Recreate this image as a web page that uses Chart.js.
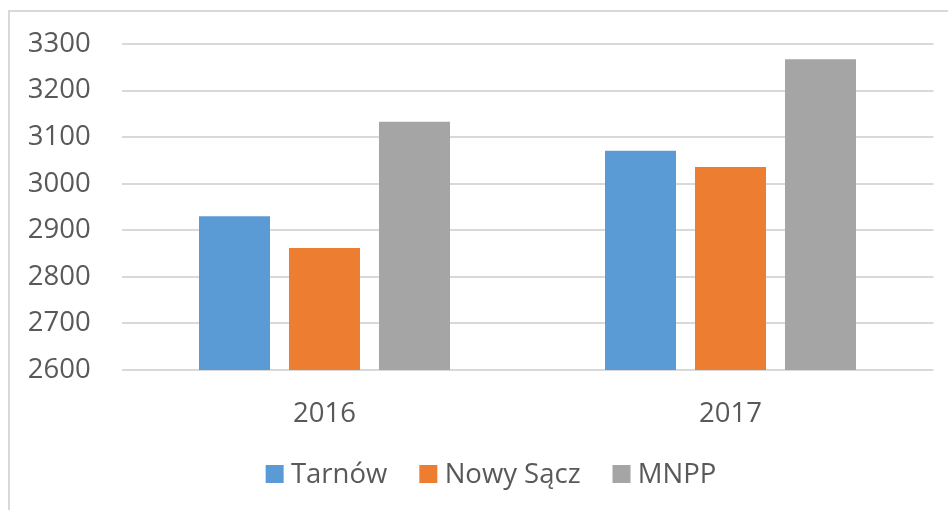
<!DOCTYPE html>
<html>
<head>
<meta charset="utf-8">
<script src="https://cdn.jsdelivr.net/npm/chart.js@4.4.1/dist/chart.umd.min.js"></script>
<style>
  html, body { margin: 0; padding: 0; background: #ffffff; overflow: hidden; }
  #wrap { position: relative; width: 948px; height: 510px; overflow: hidden; }
  #frame { position: absolute; left: 8px; top: 10px; width: 1100px; height: 700px; border: 2px solid #d9d9d9; box-sizing: border-box; }
  #c { position: absolute; left: 0; top: 0; }
</style>
</head>
<body>
<div id="wrap">
  <div id="frame"></div>
  <canvas id="c" width="948" height="510"></canvas>
</div>
<script>
const categories = ["2016", "2017"];
const seriesNames = ["Tarnów", "Nowy Sącz", "MNPP"];
const tarnow = [2930, 3071];
const nowySacz = [2862, 3036];
const mnpp = [3133, 3267];
const yMin = 2600, yMax = 3300, yStep = 100;

const colors = ["#5B9BD5", "#ED7D31", "#A5A5A5"];
const FONT = "'Open Sans', 'DejaVu Sans', sans-serif";
const FS = 27.5;
const TXT = "#595959";

const customLegend = {
  id: 'customLegend',
  afterDraw(chart) {
    const ctx = chart.ctx;
    ctx.save();
    ctx.font = FS + "px " + FONT;
    const box = 18, gapText = 7.3, gapItem = 32;
    const items = chart.data.datasets.map(d => ({ text: d.label, color: d.backgroundColor, w: ctx.measureText(d.label).width }));
    let total = 0;
    items.forEach((it, i) => { total += box + gapText + it.w + (i < items.length - 1 ? gapItem : 0); });
    let x = 491 - total / 2;
    const base = 483;
    items.forEach(it => {
      ctx.fillStyle = it.color;
      ctx.fillRect(x, base - box, box, box);
      x += box + gapText;
      ctx.fillStyle = TXT;
      ctx.textBaseline = 'alphabetic';
      ctx.textAlign = 'left';
      ctx.fillText(it.text, x, base);
      x += it.w + gapItem;
    });
    ctx.restore();
  }
};

const dataSeries = [tarnow, nowySacz, mnpp];
new Chart(document.getElementById('c'), {
  type: 'bar',
  data: {
    labels: categories,
    datasets: seriesNames.map((n, i) => ({
      label: n,
      data: dataSeries[i],
      backgroundColor: colors[i],
      borderWidth: 0,
      categoryPercentage: 0.665,
      barPercentage: 0.789
    }))
  },
  options: {
    responsive: false,
    animation: false,
    devicePixelRatio: 1,
    layout: { padding: { top: 44, right: 14.5, bottom: 0, left: 0 } },
    plugins: { legend: { display: false }, tooltip: { enabled: false } },
    scales: {
      x: {
        grid: { display: false },
        border: { display: false },
        ticks: { color: TXT, font: { family: FONT, size: FS }, padding: 20, maxRotation: 0 },
        afterFit(scale) { scale.height = 140; scale.paddingLeft = 0; scale.paddingRight = 0; }
      },
      y: {
        min: yMin, max: yMax,
        grid: { color: '#d9d9d9', lineWidth: 2, drawTicks: false },
        border: { display: false },
        ticks: { stepSize: yStep, color: TXT, font: { family: FONT, size: FS }, padding: 30.8,
                 callback: v => String(v) },
        afterFit(scale) { scale.width = 121.5; scale.paddingTop = 0; scale.paddingBottom = 0; }
      }
    }
  },
  plugins: [customLegend]
});
</script>
</body>
</html>
